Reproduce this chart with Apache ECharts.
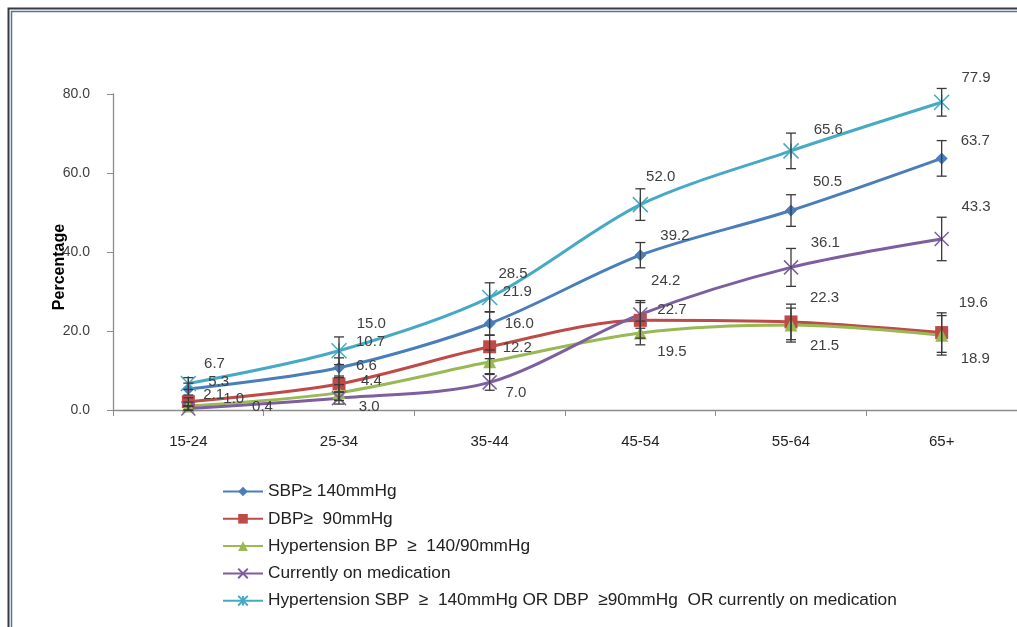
<!DOCTYPE html>
<html>
<head>
<meta charset="utf-8">
<script src="https://cdn.jsdelivr.net/npm/echarts@6/dist/echarts.min.js"></script>
<style>
html,body{margin:0;padding:0;background:#fff;}
#c{width:1017px;height:627px;}
</style>
</head>
<body>
<div id="c"></div>
<script>
// ---- data ----
const categories = ['15-24', '25-34', '35-44', '45-54', '55-64', '65+'];
const yTicks = [0, 20, 40, 60, 80];

const seriesNames = [
  'SBP\u2265 140mmHg',
  'DBP\u2265  90mmHg',
  'Hypertension BP  \u2265  140/90mmHg',
  'Currently on medication',
  'Hypertension SBP  \u2265  140mmHg OR DBP  \u226590mmHg  OR currently on medication'
];
const sbp       = [5.3, 10.7, 21.9, 39.2, 50.5, 63.7];
const dbp       = [2.1, 6.6, 16.0, 22.7, 22.3, 19.6];
const htBP      = [1.0, 4.4, 12.2, 19.5, 21.5, 18.9];
const onMed     = [0.4, 3.0, 7.0, 24.2, 36.1, 43.3];
const combined  = [6.7, 15.0, 28.5, 52.0, 65.6, 77.9];

// error bar half-widths (estimated)
const sbpErr      = [1.5, 2.5, 3.0, 3.2, 4.0, 4.5];
const dbpErr      = [1.0, 2.0, 3.0, 4.5, 4.5, 5.0];
const htErr       = [1.0, 2.0, 3.0, 3.0, 4.3, 5.0];
const onMedErr    = [0.5, 1.5, 2.0, 3.5, 4.8, 5.5];
const combinedErr = [1.5, 3.5, 3.7, 4.0, 4.5, 3.5];

// ---- styling (kept separate from data) ----
const colors = ['#4A7EBB', '#BE4B48', '#98B954', '#7D5FA0', '#46AAC5'];
const symbols = [
  'diamond',
  'rect',
  'triangle',
  'path://M0,0L10,10M10,0L0,10',
  'path://M0,0L10,10M10,0L0,10M5,0L5,10'
];
const symbolSizes = [12, 13, 13, 14, 15];
// label offsets [dx, dy] from point (left edge of text, vertical centre)
const labelOffsets = [
  [[20,-7],[17,-26],[13,-32],[20,-19],[22,-29],[19,-18]],
  [[15,-7],[17,-18],[15,-23],[17,-10],[19,-24],[17,-30]],
  [[35,-7],[22,-12],[13,-14],[17,19],[19,21],[19,24]],
  [[63,-2],[19,9],[15,11],[10,-34],[19,-25],[19,-32]],
  [[15,-20],[17,-27],[8,-24],[5,-28],[22,-21],[19,-24]]
];

const values = [sbp, dbp, htBP, onMed, combined];
const errs = [sbpErr, dbpErr, htErr, onMedErr, combinedErr];

const chart = echarts.init(document.getElementById('c'));

const lineSeries = values.map((vals, si) => ({
  name: seriesNames[si],
  type: 'line',
  smooth: 0.3,
  z: 3,
  data: vals.map((v, i) => ({
    value: v,
    label: {
      show: true,
      position: 'right',
      distance: 0,
      offset: [labelOffsets[si][i][0] - symbolSizes[si] / 2, labelOffsets[si][i][1]],
      formatter: (p) => p.value.toFixed(1),
      fontFamily: 'Liberation Sans, Arial, sans-serif',
      fontSize: 15,
      color: '#404040'
    }
  })),
  symbol: symbols[si],
  symbolSize: symbolSizes[si],
  showAllSymbol: true,
  lineStyle: { color: colors[si], width: 3 },
  itemStyle: { color: colors[si], borderColor: colors[si], borderWidth: si >= 3 ? 1.5 : 0 },
  emphasis: { disabled: true },
  animation: false
}));

const errSeries = values.map((vals, si) => ({
  type: 'custom',
  z: 5,
  silent: true,
  animation: false,
  data: vals.map((v, i) => [i, v - errs[si][i], v + errs[si][i]]),
  renderItem: function (params, api) {
    const x = api.value(0);
    const lo = api.coord([x, api.value(1)]);
    const hi = api.coord([x, api.value(2)]);
    const hw = 5;
    const st = { stroke: '#3a3a3a', lineWidth: 1.3, fill: null };
    return {
      type: 'group',
      children: [
        { type: 'line', shape: { x1: lo[0], y1: lo[1], x2: hi[0], y2: hi[1] }, style: st },
        { type: 'line', shape: { x1: lo[0] - hw, y1: lo[1], x2: lo[0] + hw, y2: lo[1] }, style: st },
        { type: 'line', shape: { x1: hi[0] - hw, y1: hi[1], x2: hi[0] + hw, y2: hi[1] }, style: st }
      ]
    };
  }
}));

chart.setOption({
  backgroundColor: '#ffffff',
  animation: false,
  color: colors,
  grid: { left: 113, right: -2, top: 94, bottom: 217, containLabel: false },
  legend: {
    orient: 'vertical',
    left: 222,
    top: 483,
    padding: 0,
    itemGap: 10.3,
    itemWidth: 40,
    itemHeight: 12,
    textStyle: { fontFamily: 'Liberation Sans, Arial, sans-serif', fontSize: 17.3, color: '#222' },
    data: seriesNames
  },
  xAxis: {
    type: 'category',
    data: categories,
    boundaryGap: true,
    axisLine: { lineStyle: { color: '#8C8C8C', width: 1.3 } },
    axisTick: { show: true, alignWithLabel: false, length: 6, lineStyle: { color: '#8C8C8C' } },
    axisLabel: { margin: 24, fontFamily: 'Liberation Sans, Arial, sans-serif', fontSize: 15, color: '#222' },
    splitLine: { show: false }
  },
  yAxis: {
    type: 'value',
    min: yTicks[0],
    max: yTicks[yTicks.length - 1],
    interval: 20,
    name: 'Percentage',
    nameLocation: 'middle',
    nameGap: 45,
    nameMoveOverlap: false,
    nameRotate: 90,
    nameTextStyle: { fontFamily: 'Liberation Sans, Arial, sans-serif', fontSize: 16, fontWeight: 'bold', color: '#000', padding: [0, 30, 0, 0] },
    axisLine: { show: true, lineStyle: { color: '#8C8C8C', width: 1.3 } },
    axisTick: { show: true, length: 6, lineStyle: { color: '#8C8C8C' } },
    axisLabel: { margin: 23, fontFamily: 'Liberation Sans, Arial, sans-serif', fontSize: 14, color: '#404040', formatter: (v) => v.toFixed(1) },
    splitLine: { show: false }
  },
  graphic: [
    { type: 'rect', shape: { x: 8.5, y: 8.5, width: 1100, height: 700 }, style: { fill: null, stroke: '#3A3A3A', lineWidth: 2 }, silent: true },
    { type: 'rect', shape: { x: 11.5, y: 11.5, width: 1100, height: 700 }, style: { fill: null, stroke: '#4F74A8', lineWidth: 1.5 }, silent: true }
  ],
  series: lineSeries.concat(errSeries)
});
</script>
</body>
</html>
